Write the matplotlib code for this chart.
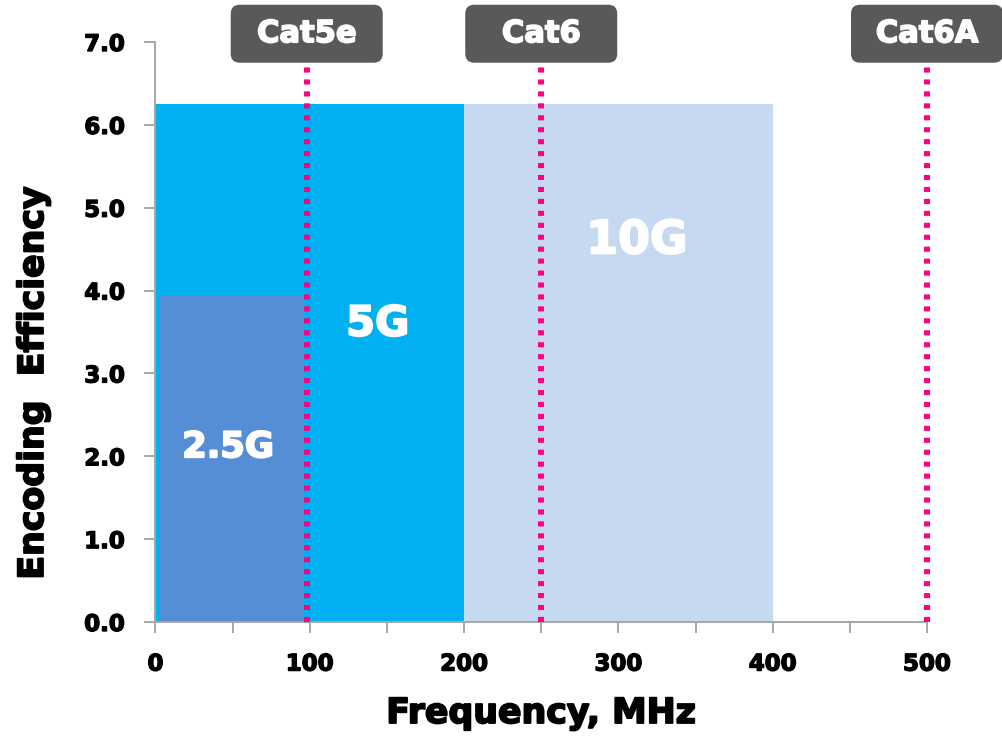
import matplotlib
matplotlib.use("Agg")
import matplotlib.pyplot as plt
import matplotlib.transforms as mtransforms
import matplotlib.patheffects as pe
from matplotlib.patches import Rectangle, FancyBboxPatch
from matplotlib.ticker import MultipleLocator, FormatStrFormatter

plt.rcParams['font.family'] = ['DejaVu Sans']
plt.rcParams['font.weight'] = 'bold'

# Speed regions: (name, start MHz, end MHz, encoding efficiency)
speeds = ["10G", "5G", "2.5G"]
freq_start = [0, 0, 3]
freq_end = [400, 200, 96]
efficiency = [6.25, 6.25, 3.95]
speed_colors = ["#c6d9f1", "#00b0f0", "#558ed5"]
# Label anchor points inside each region
label_x = [312, 144, 47]
label_y = [4.6, 3.6, 2.11]
label_sizes = [33, 30, 25.5]

# Cable categories and their rated bandwidth (MHz)
cables = ["Cat5e", "Cat6", "Cat6A"]
cable_freq = [98, 250, 500]

x_ticks = [0, 100, 200, 300, 400, 500]
y_ticks = [0, 1, 2, 3, 4, 5, 6, 7]


def heavy(color, w=1.0):
    """Thicken glyphs slightly with a same-coloured outline."""
    return [pe.withStroke(linewidth=w, foreground=color)]


fig = plt.figure(figsize=(10.03, 7.37), dpi=100)
ax = fig.add_axes([155.5 / 1003, 1 - 622 / 737, (927 - 155.5) / 1003, (622 - 42) / 737])

for name, x0, x1, h, c in zip(speeds, freq_start, freq_end, efficiency, speed_colors):
    ax.add_patch(Rectangle((x0, 0), x1 - x0, h, facecolor=c, edgecolor="none", zorder=1))

for name, x, y, s in zip(speeds, label_x, label_y, label_sizes):
    ax.text(x, y, name, color="white", fontsize=s, fontweight="bold",
            ha="center", va="center", zorder=3, path_effects=heavy("white", 1.4))

# Category markers: dotted verticals topped by a rounded tag
for name, f in zip(cables, cable_freq):
    ax.plot([f, f], [0, 7.1], color="#ff0080", linewidth=4.3,
            linestyle=(0, (0.85, 1.15)), dash_capstyle="butt",
            solid_capstyle="butt", clip_on=False, zorder=4)
    trans = fig.dpi_scale_trans + mtransforms.ScaledTranslation(f, 7.1, ax.transData)
    ax.add_patch(FancyBboxPatch((-0.76, -0.29), 1.52, 0.58,
                                boxstyle="round,pad=0,rounding_size=0.09",
                                facecolor="#595959", edgecolor="none",
                                transform=trans, clip_on=False, zorder=5))
    ax.text(0, 0, name, transform=trans, color="white", fontsize=22,
            fontweight="bold", ha="center", va="center", zorder=6,
            path_effects=heavy("white", 1.2))

ax.set_xlim(0, 500)
ax.set_ylim(0, 7)
ax.set_xticks(x_ticks)
ax.xaxis.set_minor_locator(MultipleLocator(50))
ax.set_yticks(y_ticks)
ax.yaxis.set_major_formatter(FormatStrFormatter("%.1f"))

for side in ("top", "right"):
    ax.spines[side].set_visible(False)
for side in ("left", "bottom"):
    ax.spines[side].set_color("#a6a6a6")
    ax.spines[side].set_linewidth(1.4)
    ax.spines[side].set_zorder(2)

ax.tick_params(axis="both", which="both", direction="out", length=8,
               width=1.4, color="#a6a6a6", labelsize=16.5, pad=14)
for lbl in ax.get_xticklabels() + ax.get_yticklabels():
    lbl.set_fontweight("bold")
    lbl.set_path_effects(heavy("black", 1.0))

fig.text(541 / 1003, 1 - 713 / 737, "Frequency, MHz", fontsize=25, fontweight="bold",
         ha="center", va="center", path_effects=heavy("black", 1.3))
fig.text(33 / 1003, 1 - 383 / 737, "Encoding  Efficiency", fontsize=25, fontweight="bold",
         ha="center", va="center", rotation=90, path_effects=heavy("black", 1.3))

fig.savefig("out.png", dpi=100)
